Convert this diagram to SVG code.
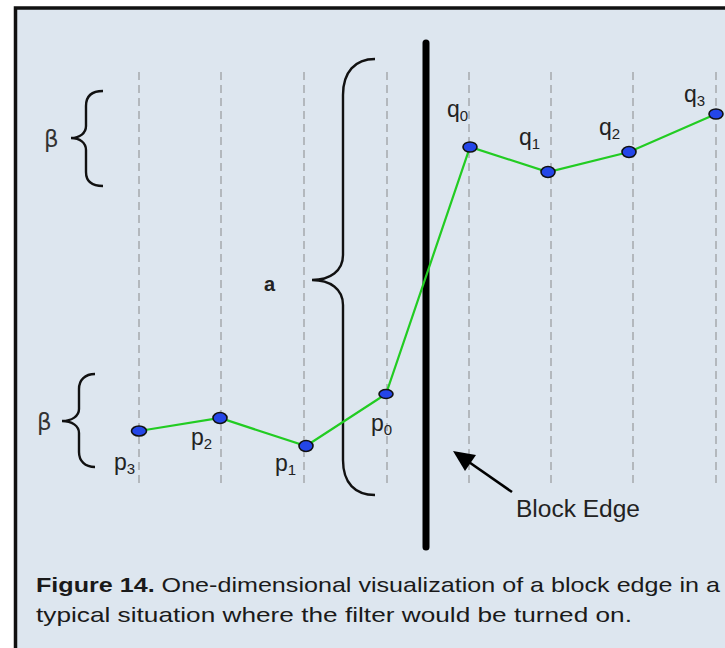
<svg xmlns="http://www.w3.org/2000/svg" width="725" height="648" viewBox="0 0 725 648">
<defs>
<style>
.dash{stroke:#a9adb1;stroke-width:1.6;stroke-dasharray:8 5;fill:none}
.brace{stroke:#111;stroke-width:2.4;fill:none}
.lbl{font-family:"Liberation Sans",Arial,sans-serif;font-size:23px;fill:#222}
.sub{font-size:15px}
.greek{font-family:"DejaVu Sans","Liberation Sans",sans-serif;font-size:23px;fill:#333}
.pt{fill:#2446e8;stroke:#111;stroke-width:1.6}
.cap{font-family:"Liberation Sans",Arial,sans-serif;font-size:21px;fill:#1a1a1a}
</style>
</defs>
<rect x="0" y="0" width="725" height="648" fill="#ffffff"/>
<rect x="15.5" y="8" width="720" height="660" fill="#dde6ef" stroke="#111" stroke-width="3.5"/>
<g id="gridlines">
<line class="dash" x1="139" y1="72" x2="139" y2="487"/>
<line class="dash" x1="221" y1="72" x2="221" y2="487"/>
<line class="dash" x1="304" y1="72" x2="304" y2="487"/>
<line class="dash" x1="387" y1="72" x2="387" y2="487"/>
<line class="dash" x1="469" y1="72" x2="469" y2="487"/>
<line class="dash" x1="551" y1="72" x2="551" y2="487"/>
<line class="dash" x1="633" y1="72" x2="633" y2="487"/>
<line class="dash" x1="716" y1="72" x2="716" y2="487"/>
</g>
<g id="braces">
<path class="brace" d="M103,91 C92,91 86,96 86,106 L86,126 C86,133 80,138 71,138 C80,138 86,143 86,150 L86,172 C86,181 92,186 103,186"/>
<path class="brace" d="M95,374 C85,374 79,380 79,389 L79,409 C79,416 72,421 62,421 C72,421 79,426 79,433 L79,452 C79,461 85,467 95,467"/>
<path class="brace" d="M375,59 C355,59 343,72 343,95 L343,255 C343,271 330,280 312,280 C330,280 343,289 343,305 L343,460 C343,483 355,495 375,495"/>
</g>
<g id="block-edge">
<line x1="426" y1="43" x2="426" y2="547" stroke="#000" stroke-width="7" stroke-linecap="round"/>
</g>
<g id="connectors">
<polyline points="139,431 220,418 306,446 386,394 470,147 548,172 629,152 716,114" fill="none" stroke="#22cc22" stroke-width="2.2"/>
<line x1="512" y1="492" x2="466" y2="460" stroke="#000" stroke-width="2.6"/>
<polygon points="453,451 476,455 465,471" fill="#000"/>
</g>
<g id="points">
<ellipse id="p3" class="pt" cx="139" cy="431" rx="7.5" ry="5"/>
<ellipse id="p2" class="pt" cx="220" cy="418" rx="7" ry="5.5"/>
<ellipse id="p1" class="pt" cx="306" cy="446" rx="7" ry="5.5"/>
<ellipse id="p0" class="pt" cx="386" cy="394" rx="7" ry="4.5"/>
<ellipse id="q0" class="pt" cx="470" cy="147" rx="7" ry="5"/>
<ellipse id="q1" class="pt" cx="548" cy="172" rx="7" ry="5.5"/>
<ellipse id="q2" class="pt" cx="629" cy="152" rx="7" ry="5.5"/>
<ellipse id="q3" class="pt" cx="716" cy="114" rx="7" ry="5"/>
</g>
<g id="labels">
<text class="greek" x="44" y="147">β</text>
<text class="greek" x="37" y="430">β</text>
<text x="264" y="291" font-family="Liberation Sans,Arial,sans-serif" font-size="20" font-weight="bold" fill="#222">a</text>
<text class="lbl" x="114" y="470">p<tspan class="sub" dy="4">3</tspan></text>
<text class="lbl" x="191" y="445">p<tspan class="sub" dy="4">2</tspan></text>
<text class="lbl" x="275" y="471">p<tspan class="sub" dy="4">1</tspan></text>
<text class="lbl" x="371" y="431">p<tspan class="sub" dy="4">0</tspan></text>
<text class="lbl" x="447" y="117">q<tspan class="sub" dy="4">0</tspan></text>
<text class="lbl" x="519" y="145">q<tspan class="sub" dy="4">1</tspan></text>
<text class="lbl" x="599" y="135">q<tspan class="sub" dy="4">2</tspan></text>
<text class="lbl" x="684" y="102">q<tspan class="sub" dy="4">3</tspan></text>
<text class="lbl" x="516" y="517" textLength="124" lengthAdjust="spacingAndGlyphs">Block Edge</text>
</g>
<g id="caption">
<text class="cap" x="36" y="592" textLength="684" lengthAdjust="spacingAndGlyphs"><tspan font-weight="bold">Figure 14.</tspan> One-dimensional visualization of a block edge in a</text>
<text class="cap" x="36" y="622" textLength="596" lengthAdjust="spacingAndGlyphs">typical situation where the filter would be turned on.</text>
</g>
</svg>
